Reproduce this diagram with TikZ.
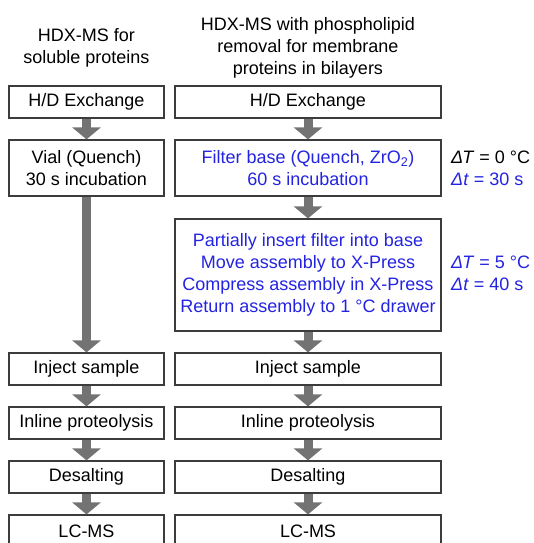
\documentclass[tikz,border=0pt]{standalone}
\usepackage{fontspec}
\setmainfont{Liberation Sans}
\usetikzlibrary{arrows.meta}
\definecolor{stepblue}{RGB}{35,35,225}
\definecolor{arrowgray}{RGB}{115,115,115}
\definecolor{boxline}{RGB}{60,60,60}
\tikzset{
  lbox/.style={draw=boxline, line width=1.2pt, minimum width=155pt, minimum height=32pt, inner sep=0pt, align=center},
  rbox/.style={lbox, minimum width=266pt},
  flow/.style={arrowgray, line width=9pt, -{Triangle[width=28pt,length=12pt]}},
  note/.style={anchor=west, align=left, inner sep=0pt}
}

\begin{document}
\begin{tikzpicture}[x=1pt,y=-1pt,font=\fontsize{18}{22}\selectfont]
				\useasboundingbox (0,0) rectangle (533,543);
				\node[align=center] (lhead) at (86.5,48) {HDX-MS for\\soluble proteins};
				\node[align=center] (rhead) at (308,47.5) {HDX-MS with phospholipid\\removal for membrane\\proteins in bilayers};
				\node[lbox] (lhd) at (86.5,102) {H/D Exchange};
				\node[rbox] (rhd) at (308,102) {H/D Exchange};
				\node[lbox, minimum height=56pt] (vial) at (86.5,168) {Vial (Quench)\\30 s incubation};
				\node[rbox, minimum height=56pt, text=stepblue] (filter) at (308,168) {Filter base (Quench, ZrO\textsubscript{2})\\60 s incubation};
				\node[rbox, minimum height=112pt, text=stepblue] (press) at (308,275) {Partially insert filter into base\\Move assembly to X-Press\\Compress assembly in X-Press\\Return assembly to 1 °C drawer};
				\node[lbox] (linject) at (86.5,369) {Inject sample};
				\node[rbox] (rinject) at (308,369) {Inject sample};
				\node[lbox] (linline) at (86.5,423) {Inline proteolysis};
				\node[rbox] (rinline) at (308,423) {Inline proteolysis};
				\node[lbox] (ldesalt) at (86.5,477) {Desalting};
				\node[rbox] (rdesalt) at (308,477) {Desalting};
				\node[lbox] (llcms) at (86.5,531) {LC-MS};
				\node[rbox] (rlcms) at (308,531) {LC-MS};
				\node[note] (quenchnote) at (451,168) {\textit{Δ}\kern-1pt\textit{T} = 0 °C\\\textcolor{stepblue}{\textit{Δt} = 30 s}};
				\node[note, text=stepblue] (pressnote) at (451,273) {\textit{Δ}\kern-1pt\textit{T} = 5 °C\\\textit{Δt} = 40 s};
				\draw[flow] (lhd) -- (vial);
				\draw[flow] (vial) -- (linject);
				\draw[flow] (linject) -- (linline);
				\draw[flow] (linline) -- (ldesalt);
				\draw[flow] (ldesalt) -- (llcms);
				\draw[flow] (rhd) -- (filter);
				\draw[flow] (filter) -- (press);
				\draw[flow] (press) -- (rinject);
				\draw[flow] (rinject) -- (rinline);
				\draw[flow] (rinline) -- (rdesalt);
				\draw[flow] (rdesalt) -- (rlcms);
			\end{tikzpicture}
\end{document}
